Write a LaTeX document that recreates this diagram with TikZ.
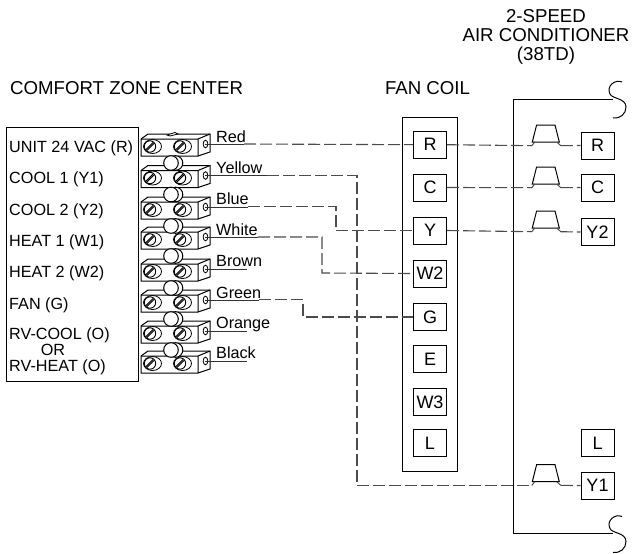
\documentclass[tikz,border=0pt]{standalone}
\usepackage{fontspec}
\setmainfont{Liberation Sans}
\tikzset{
  lbl/.style={inner sep=0pt, font=\fontsize{16.2}{17}\selectfont},
  ttl/.style={inner sep=0pt, font=\fontsize{18.65}{18.7}\selectfont},
  pinbox/.style={draw, line width=1pt, minimum width=33pt, minimum height=27pt, inner sep=0pt, font=\fontsize{18}{19}\selectfont},
  wire/.style={line width=1.1pt, draw=black!70, dash pattern=on 12pt off 4pt},
  lead/.style={line width=1pt, draw=black!80},
  terminal/.pic={
    \draw[line width=1pt, fill=white] (-64,-5) -- (-57,-10) -- (5,-10) -- (5,8) -- (-7,12) -- (-64,12) -- cycle;
    \draw[line width=1pt] (-64,-5) -- (-7,-5) -- (-7,12) (-7,-5) -- (5,-10);
    \draw[line width=.8pt] (0.5,0) ellipse (2.3 and 3.8);
    \foreach \sx in {-55,-25} {
      \draw[line width=.8pt] (\sx+2.5,2.5) ellipse (9 and 7);
      \draw[line width=.9pt, fill=white] (\sx,2.5) circle (5.7);
      \draw[line width=.9pt] (\sx-4,5.5) -- (\sx+3,-1.5) (\sx-3,6.5) -- (\sx+4,-.5);
    }
    \coordinate (-hole) at (0,0);
  },
  contactor/.pic={
    \draw[line width=1pt] (-13.5,0) -- (-9.2,-17) -- (9.2,-17) -- (13.5,0) -- cycle;
    \draw[line width=1pt, draw=black!70] (-11,0) -- (-14,3.7) (11,0) -- (15,3.7);
    \coordinate (-l) at (-14,3.7);
    \coordinate (-r) at (15,3.7);
  },
}
\begin{document}
\begin{tikzpicture}[x=1pt, y=-1pt]
  \useasboundingbox (0,0) rectangle (643,554);
  % thermostat
  \draw[line width=1pt] (6,127) rectangle (138,381);
  \node (titlecz) [ttl, anchor=west] at (10,88) {COMFORT ZONE CENTER};
  \foreach \nm/\ty/\txt in {a/152/UNIT 24 VAC (R), b/183.5/COOL 1 (Y1), c/215/COOL 2 (Y2), d/246.5/HEAT 1 (W1),
                            e/277.5/HEAT 2 (W2), f/309.5/FAN (G), g/339.5/RV-COOL (O), h/371.5/RV-HEAT (O)}
    \node (l\nm) [lbl, anchor=base west] at (9,\ty) {\txt};
  \node (lor) [lbl, anchor=base] at (53,355.5) {OR};
  % terminal blocks
  \foreach \n/\ty in {1/144, 2/175.5, 3/207, 4/237, 5/269, 6/300, 7/331, 8/361}
    \pic (t\n) at (205,\ty) {terminal};
  \foreach \ty in {144, 175.5, 207, 237, 269, 300, 331} {
    \draw[line width=1pt, fill=white] (175.5,\ty+19) circle (7.3);
    \draw[line width=1pt, fill=white] (171,\ty+19) circle (7.3);
  }
  \draw[line width=.8pt, fill=white] (167,135) -- (175,132.5) -- (178,134) -- (170,136) -- cycle;
  % wire colours
  \foreach \nm/\ty/\txt in {red/142/Red, yel/173/Yellow, blu/204/Blue, whi/235/White,
                            bro/266/Brown, gre/298/Green, ora/328/Orange, bla/358/Black}
    \node (c\nm) [lbl, anchor=base west] at (216,\ty) {\txt};
  % fan coil
  \node (titlefc) [ttl] at (427.5,88) {FAN COIL};
  \draw[line width=1pt] (402,117) rectangle (457,471);
  \foreach \nm/\ty in {R/144.7, C/187.5, Y/230.5, W2/273.5, G/317, E/359, W3/402, L/443}
    \node (fc\nm) [pinbox] at (430,\ty) {\nm};
  % air conditioner
  \node (titleac) [ttl, align=center] at (546,37) {2-SPEED\\AIR CONDITIONER\\(38TD)};
  \draw[line width=1pt] (613,99) -- (513,99) -- (513,533.5) -- (613,533.5);
  \foreach \cy in {99,533.5}
    \draw[line width=1pt] (622,\cy-17) .. controls (615,\cy-20) and (606,\cy-13) .. (610,\cy-5)
      .. controls (612,\cy) and (626,\cy-1) .. (626,\cy+8)
      .. controls (626,\cy+15) and (620,\cy+20) .. (613,\cy+19);
  \foreach \nm/\ty in {R/145.5, C/187.5, Y2/232, L/443, Y1/485.5}
    \node (ac\nm) [pinbox] at (597.5,\ty) {\nm};
  % contactors
  \foreach \nm/\ty in {R/142, C/184, Y2/228, Y1/481.7}
    \pic (k\nm) at (545.8,\ty) {contactor};
  % wires
  \draw[lead] (t1-hole) -- (244,144);
  \draw[lead] (t2-hole) -- (267,175.5);
  \draw[lead] (t3-hole) -- (248,207);
  \draw[lead] (t4-hole) -- (258,237);
  \draw[lead] (t5-hole) -- (247,269);
  \draw[lead] (t6-hole) -- (259,300);
  \draw[lead] (t7-hole) -- (247,331);
  \draw[lead] (t8-hole) -- (247,361);
  \draw[wire] (244,144) -- (fcR.west);
  \draw[wire] (267,175.5) -| (357,485.4) -- (kY1-l);
  \draw[wire] (248,206.6) -| (336,230.5) -- (fcY.west);
  \draw[wire] (258,237) -| (322,273) -- (fcW2.west);
  \draw[wire] (259,299.6) -| (303,317) -- (fcG.west);
  \foreach \nm/\pin in {R/R, C/C, Y/Y2}
    \draw[wire] (fc\nm.east) -- (k\pin-l);
  \foreach \pin in {R, C, Y2, Y1}
    \draw[wire] (k\pin-r) -- (ac\pin.west);
\end{tikzpicture}
\end{document}
